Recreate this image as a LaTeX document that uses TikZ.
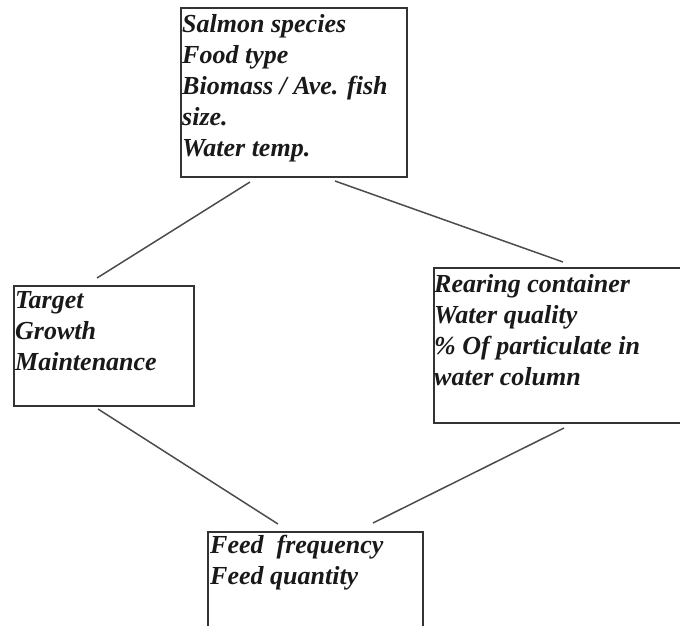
\documentclass[tikz,border=0pt]{standalone}
\usepackage{fontspec}
\setmainfont{Liberation Serif}
\begin{document}
\begin{tikzpicture}[x=1pt,y=1pt,
  box/.style={draw=black!80, line width=1.6pt, rectangle, inner sep=0pt, anchor=north west},
  txt/.style={anchor=base west, inner sep=0pt, text=black!90, font=\fontsize{26}{31}\selectfont\bfseries\itshape},
  link/.style={draw=black!70, line width=1.5pt}]
\useasboundingbox (0,0) rectangle (680,-625);
\clip (0,0) rectangle (680,-625);
% boxes
\node[box, minimum width=226pt, minimum height=169pt] (top) at (180,-7) {};
\node[box, minimum width=180pt, minimum height=120pt] (left) at (13,-285) {};
\node[box, minimum width=280pt, minimum height=155pt] (right) at (433,-267) {};
\node[box, minimum width=215pt, minimum height=120pt] (bottom) at (207,-531) {};
% texts
\node[txt] (t1) at (182,-32) {Salmon species};
\node[txt] (t2) at (182,-63) {Food type};
\node[txt] (t3) at (182,-94) {Biomass / Ave. fish};
\node[txt] (t4) at (182,-125) {size.};
\node[txt] (t5) at (182,-156) {Water temp.};
\node[txt] (l1) at (15,-308) {Target};
\node[txt] (l2) at (15,-339) {Growth};
\node[txt] (l3) at (15,-370) {Maintenance};
\node[txt] (r1) at (434,-292) {Rearing container};
\node[txt] (r2) at (434,-323) {Water quality};
\node[txt] (r3) at (434,-354) {\% Of particulate in};
\node[txt] (r4) at (434,-385) {water column};
\node[txt] (b1) at (210,-553) {Feed\ \ frequency};
\node[txt] (b2) at (210,-584) {Feed quantity};
% connector end points
\coordinate (a1) at (250,-182);
\coordinate (a2) at (97,-278);
\coordinate (c1) at (335,-181);
\coordinate (c2) at (563,-262);
\coordinate (d1) at (98,-409);
\coordinate (d2) at (278,-524);
\coordinate (e1) at (564,-428);
\coordinate (e2) at (373,-523);
\draw[link] (a1) -- (a2);
\draw[link] (c1) -- (c2);
\draw[link] (d1) -- (d2);
\draw[link] (e1) -- (e2);
\end{tikzpicture}
\end{document}
